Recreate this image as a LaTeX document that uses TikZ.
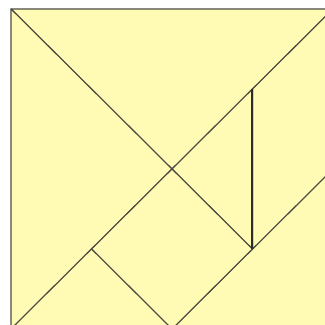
\documentclass[tikz,border=0pt]{standalone}
\definecolor{tanfill}{RGB}{255,250,180}
\definecolor{tanline}{RGB}{75,75,65}
\tikzset{piece/.style={fill=tanfill,draw=tanline,line width=1.1pt,line join=round}}
\begin{document}
\begin{tikzpicture}[x=1pt,y=-1pt]
\useasboundingbox (0,0) rectangle (325,325);
\fill[white] (0,0) rectangle (325,325);
\clip (0,0) rectangle (325,325);
\begin{scope}[shift={(11,9)},x=80.5pt,y=-80pt]
\coordinate (A) at (0,0);
\coordinate (B) at (4,0);
\coordinate (C) at (4,4);
\coordinate (D) at (0,4);
\coordinate (M) at (2,2);
\coordinate (P) at (3,1);
\coordinate (Q) at (3,3);
\coordinate (R) at (4,2);
\coordinate (S) at (2,4);
\coordinate (T) at (1,3);
\draw[piece] (A) -- (B) -- (M) -- cycle;
\draw[piece] (A) -- (M) -- (D) -- cycle;
\draw[piece] (S) -- (R) -- (C) -- cycle;
\draw[piece] (P) -- (B) -- (R) -- (Q) -- cycle;
\draw[piece] (M) -- (P) -- (Q) -- cycle;
\draw[piece] (T) -- (M) -- (Q) -- (S) -- cycle;
\draw[piece] (D) -- (T) -- (S) -- cycle;
\draw[tanline!60!black,line width=2pt] (P) -- (Q);
\end{scope}
\end{tikzpicture}
\end{document}
